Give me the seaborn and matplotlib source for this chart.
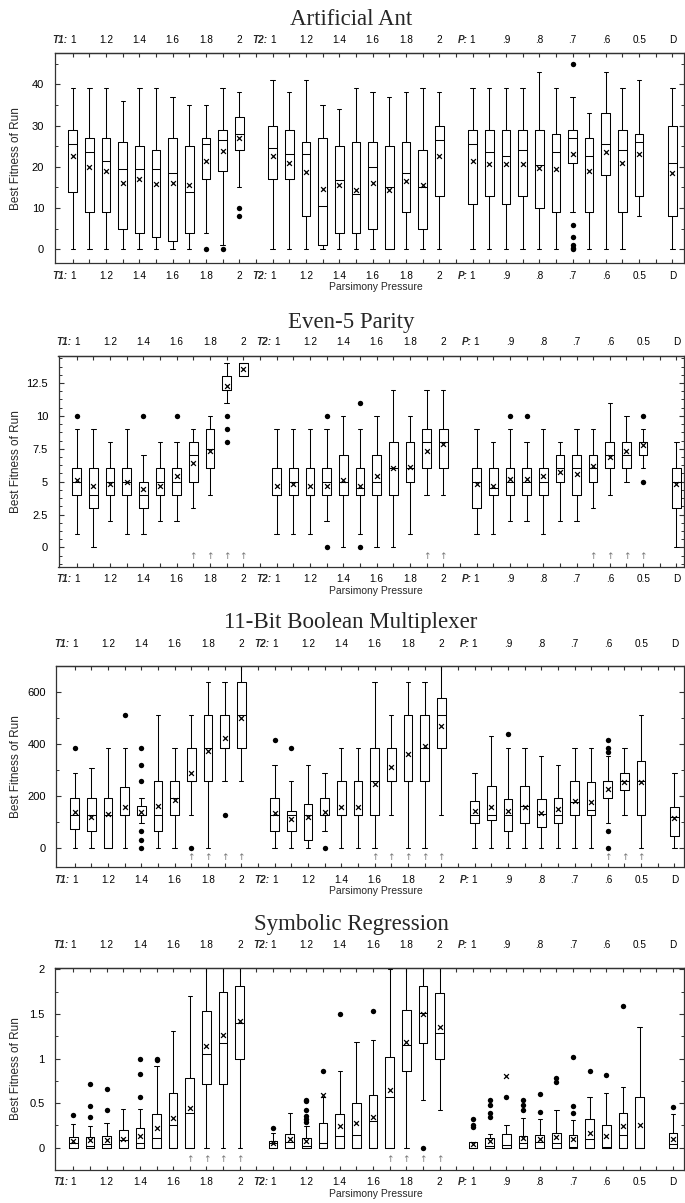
import matplotlib
matplotlib.use("Agg")

import pandas as pd
import matplotlib.pyplot as plt
import matplotlib.ticker as mticker
import matplotlib.transforms as mtransforms
import seaborn as sns

# --- categories -------------------------------------------------------------
T_STEPS = ["1", "1.1", "1.2", "1.3", "1.4", "1.5", "1.6", "1.7", "1.8", "1.9", "2"]
P_STEPS = ["1", ".95", ".9", ".85", ".8", ".75", ".7", ".65", ".6", ".55", "0.5"]
GROUPS = ["T1", "T2", "P", "D"]
CONDITIONS = ([f"T1 {s}" for s in T_STEPS] + [f"T2 {s}" for s in T_STEPS]
              + [f"P {s}" for s in P_STEPS] + ["D"])

# --- Artificial Ant ---------------------------------------------------------
ANT_LO = [0, 0, 0, 0, 0, 0, 0, 0, 4, 1, 15,
          0, 0, 0, 0, 0, 0, 0, 0, 0, 0, 0,
          0, 0, 0, 0, 0, 0, 9, 0, 0, 0, 8, 0]
ANT_Q1 = [14, 9, 9, 5, 4, 3, 2, 4, 17, 19, 24,
          17, 17, 8, 1, 4, 4, 5, 0, 9, 5, 13,
          11, 13, 11, 13, 10, 9, 21, 9, 18, 9, 13, 8]
ANT_MED = [25.5, 23.5, 21.5, 19.5, 19.5, 19.5, 18.5, 14, 25.5, 26.5, 28,
           24.5, 23, 23, 10.5, 16.7, 13.5, 20, 15, 18.5, 15, 26.5,
           25.5, 23.5, 22.5, 24, 20.5, 23.5, 27, 22.5, 25.5, 24, 26, 21]
ANT_Q3 = [29, 27, 27, 26, 25, 24, 27, 25, 27, 29, 32,
          30, 29, 26, 27, 25, 26, 26, 25, 26, 24, 30,
          29, 29, 29, 29, 29, 28, 29, 27, 33, 29, 28, 30]
ANT_HI = [39, 39, 39, 36, 39, 39, 37, 35, 35, 39, 38,
          41, 38, 41, 35, 34, 39, 38, 37, 38, 39, 38,
          39, 39, 39, 39, 43, 39, 37, 33, 43, 39, 41, 39]
ANT_MEAN = [22.5, 20, 19, 16, 17, 15.8, 16, 15.5, 21.5, 23.9, 27,
            22.7, 21, 18.7, 14.6, 15.6, 14.3, 16, 14.4, 16.5, 15.6, 22.7,
            21.4, 20.7, 20.7, 20.7, 19.7, 19.4, 23.1, 19, 23.5, 21, 23.1, 18.5]
ANT_OUTLIERS = [("T1 1.8", 0), ("T1 1.9", 0), ("T1 2", 10), ("T1 2", 8),
                ("P .7", 45), ("P .7", 6), ("P .7", 3), ("P .7", 1),
                ("P .7", 0.4), ("P .7", 0)]
ANT_ARROWS = []

# --- Even-5 Parity ----------------------------------------------------------
PAR_LO = [1, 0, 2, 1, 1, 2, 2, 3, 4, 11, 13,
          1, 1, 1, 2, 0, 1, 0, 0, 1, 4, 4,
          1, 1, 2, 2, 1, 2, 2, 3, 4, 5, 6, 0]
PAR_Q1 = [4, 3, 4, 4, 3, 4, 4, 5, 6, 12, 13,
          4, 4, 4, 4, 4, 4, 4, 4, 5, 6, 6,
          3, 4, 4, 4, 4, 5, 4, 5, 6, 6, 7, 3]
PAR_MED = [5, 4, 5, 5, 4, 5, 5, 7, 7.5, 12, 14,
           4, 5, 4, 5, 5, 4.5, 5, 6, 6, 8, 8,
           5, 4.5, 5, 5, 5, 6, 6, 6, 7, 7, 8, 5]
PAR_Q3 = [6, 6, 6, 6, 5, 6, 6, 8, 9, 13, 14,
          6, 6, 6, 6, 7, 6, 7, 8, 8, 9, 9,
          6, 6, 6, 6, 6, 7, 7, 7, 8, 8, 8, 6]
PAR_HI = [9, 9, 8, 9, 7, 8, 8, 9, 10, 14, 14,
          9, 9, 9, 9, 10, 9, 10, 12, 10, 12, 12,
          9, 8, 9, 8, 9, 8, 9, 9, 11, 10, 9, 8]
PAR_MEAN = [5.1, 4.65, 4.8, 5.0, 4.45, 4.7, 5.4, 6.4, 7.3, 12.3, 13.6,
            4.7, 4.85, 4.7, 4.7, 5.1, 4.7, 5.4, 6.0, 6.1, 7.35, 7.85,
            4.8, 4.7, 5.2, 5.2, 5.4, 5.7, 5.6, 6.2, 6.9, 7.3, 7.75, 4.8]
PAR_OUTLIERS = [("T1 1", 10), ("T1 1.4", 10), ("T1 1.6", 10),
                ("T1 1.9", 10), ("T1 1.9", 9), ("T1 1.9", 8),
                ("T2 1.3", 10), ("T2 1.3", 0), ("T2 1.5", 11), ("T2 1.5", 0),
                ("P .9", 10), ("P .85", 10), ("P 0.5", 10), ("P 0.5", 5)]
PAR_ARROWS = ["T1 1.7", "T1 1.8", "T1 1.9", "T1 2", "T2 1.9", "T2 2",
              "P .65", "P .6", "P .55", "P 0.5"]

# --- 11-Bit Boolean Multiplexer ---------------------------------------------
MUX_LO = [0, 0, 0, 0, 96, 0, 0, 128, 0, 256, 256,
          0, 0, 0, 64, 0, 0, 0, 128, 0, 0, 128,
          0, 0, 0, 0, 0, 0, 0, 0, 96, 128, 0, 0]
MUX_Q1 = [72, 64, 0, 128, 128, 64, 128, 256, 256, 384, 384,
          64, 64, 32, 128, 128, 128, 128, 256, 256, 256, 384,
          96, 108, 64, 96, 80, 96, 128, 128, 192, 224, 128, 46]
MUX_MED = [128, 128, 128, 128, 128, 128, 192, 256, 384, 384, 512,
           128, 128, 128, 128, 128, 128, 256, 256, 256, 384, 512,
           128, 128, 128, 160, 130, 128, 176, 146, 256, 256, 256, 120]
MUX_Q3 = [192, 192, 192, 236, 160, 256, 256, 384, 512, 512, 640,
          192, 144, 168, 192, 256, 256, 384, 384, 512, 512, 576,
          180, 240, 190, 240, 190, 194, 256, 252, 258, 288, 336, 158]
MUX_HI = [288, 306, 384, 384, 192, 512, 384, 512, 640, 640, 704,
          320, 256, 320, 288, 384, 384, 640, 512, 640, 640, 704,
          288, 432, 384, 384, 352, 320, 384, 384, 352, 384, 512, 288]
MUX_MEAN = [139, 120, 129, 158, 139, 162, 184, 287, 375, 425, 500,
            133, 113, 120, 139, 158, 156, 246, 313, 362, 394, 471,
            142, 156, 143, 158, 133, 148, 182, 175, 225, 255, 252, 116]
MUX_OUTLIERS = [("T1 1", 384), ("T1 1.3", 512),
                ("T1 1.4", 384), ("T1 1.4", 320), ("T1 1.4", 256),
                ("T1 1.4", 64), ("T1 1.4", 32), ("T1 1.4", 0),
                ("T1 1.7", 0), ("T1 1.9", 128),
                ("T2 1", 416), ("T2 1.1", 384), ("T2 1.3", 0),
                ("P .9", 440), ("P .6", 416), ("P .6", 384), ("P .6", 368),
                ("P .6", 64), ("P .6", 0)]
MUX_ARROWS = ["T1 1.7", "T1 1.8", "T1 1.9", "T1 2",
              "T2 1.6", "T2 1.7", "T2 1.8", "T2 1.9", "T2 2",
              "P .6", "P .55", "P 0.5"]

# --- Symbolic Regression ----------------------------------------------------
SYM_LO = [0, 0, 0, 0, 0, 0, 0, 0, 0, 0, 0,
          0, 0, 0, 0, 0, 0, 0, 0, 0, 0.54, 0.42,
          0, 0, 0, 0, 0, 0, 0, 0, 0, 0, 0, 0]
SYM_Q1 = [0, 0, 0, 0, 0, 0, 0, 0, 0.72, 0.72, 0.99,
          0, 0, 0, 0, 0, 0, 0, 0, 0.86, 1.17, 0.99,
          0, 0, 0, 0, 0, 0, 0, 0, 0, 0, 0, 0]
SYM_MED = [0.05, 0.02, 0.04, 0.086, 0.05, 0.11, 0.255, 0.39, 1.05, 1.18, 1.4,
           0.05, 0.06, 0.02, 0.05, 0.13, 0.14, 0.3, 0.57, 1.15, 1.51, 1.29,
           0.0, 0.02, 0.03, 0.05, 0.068, 0.05, 0.01, 0.1, 0.01, 0.14, 0.0, 0.04]
SYM_Q3 = [0.124, 0.124, 0.135, 0.2, 0.22, 0.375, 0.61, 0.78, 1.53, 1.745, 1.81,
          0.075, 0.155, 0.105, 0.28, 0.375, 0.5, 0.59, 1.02, 1.54, 1.81, 1.74,
          0.068, 0.105, 0.155, 0.135, 0.14, 0.17, 0.14, 0.32, 0.25, 0.39, 0.57, 0.16]
SYM_HI = [0.27, 0.24, 0.28, 0.43, 0.43, 0.92, 1.31, 1.7, 2.3, 2.3, 2.3,
          0.17, 0.39, 0.24, 0.57, 0.86, 1.19, 1.21, 2.0, 2.3, 2.3, 2.3,
          0.068, 0.15, 0.26, 0.33, 0.32, 0.42, 0.31, 0.57, 0.61, 0.68, 1.35, 0.375]
SYM_MEAN = [0.07, 0.086, 0.086, 0.1, 0.13, 0.22, 0.33, 0.45, 1.14, 1.27, 1.42,
            0.05, 0.094, 0.075, 0.59, 0.245, 0.28, 0.34, 0.65, 1.19, 1.5, 1.36,
            0.04, 0.075, 0.81, 0.105, 0.1, 0.12, 0.098, 0.17, 0.135, 0.24, 0.255, 0.1]
SYM_OUTLIERS = [("T1 1", 0.37), ("T1 1.1", 0.72), ("T1 1.1", 0.47), ("T1 1.1", 0.34),
                ("T1 1.2", 0.66), ("T1 1.2", 0.42),
                ("T1 1.4", 1.0), ("T1 1.4", 0.83), ("T1 1.4", 0.57),
                ("T1 1.5", 1.0), ("T1 1.5", 0.98),
                ("T2 1", 0.225), ("T2 1.2", 0.54), ("T2 1.2", 0.52), ("T2 1.2", 0.42),
                ("T2 1.2", 0.36), ("T2 1.2", 0.32), ("T2 1.2", 0.29),
                ("T2 1.3", 0.86), ("T2 1.4", 1.5), ("T2 1.6", 1.53), ("T2 1.9", 0),
                ("P 1", 0.32), ("P 1", 0.255), ("P 1", 0.23),
                ("P .95", 0.53), ("P .95", 0.48), ("P .95", 0.39), ("P .95", 0.34),
                ("P .9", 0.57), ("P .85", 0.53), ("P .85", 0.48), ("P .85", 0.42),
                ("P .8", 0.6), ("P .8", 0.405), ("P .75", 0.78), ("P .75", 0.735),
                ("P .7", 1.02), ("P .7", 0.47), ("P .7", 0.39),
                ("P .65", 0.86), ("P .6", 0.82), ("P .55", 1.59), ("D", 0.46)]
SYM_ARROWS = ["T1 1.7", "T1 1.8", "T1 1.9", "T1 2",
              "T2 1.7", "T2 1.8", "T2 1.9", "T2 2"]

# --- style ------------------------------------------------------------------
sns.set_style("ticks")
plt.rcParams.update({
    "font.family": ["Liberation Sans", "DejaVu Sans"],
    "axes.edgecolor": "#333333",
    "axes.linewidth": 0.9,
    "xtick.direction": "in",
    "ytick.direction": "in",
    "xtick.major.size": 3,
    "xtick.major.width": 0.8,
    "ytick.major.size": 3.5,
    "ytick.minor.size": 2,
    "ytick.major.width": 0.8,
    "ytick.minor.width": 0.7,
    "xtick.color": "#333333",
    "ytick.color": "#333333",
    "xtick.labelcolor": "black",
    "ytick.labelcolor": "black",
})

W, H = 685, 1203
SPACING = 16.66   # px between neighbouring boxes
FIRST = 18.2      # px from left spine to first box
RIGHT = 684
TICK_FS = 7.2


def cond_pos(cond):
    group, _, step = cond.partition(" ")
    steps = P_STEPS if group == "P" else T_STEPS
    return 12 * GROUPS.index(group) + (steps.index(step) if step else 0)


def tick_text():
    labels = {}
    for cond in CONDITIONS:
        group, _, step = cond.partition(" ")
        steps = P_STEPS if group == "P" else T_STEPS
        if not step:
            labels[cond_pos(cond)] = "D"
        elif steps.index(step) % 2 == 0:
            labels[cond_pos(cond)] = step
    return [labels.get(i, "") for i in range(37)]


def draw_panel(fig, title, stats, mean, outliers, arrows, ylim, major, minor, lay):
    left, top, bottom, top_lab, title_base = lay
    ax = fig.add_axes([left / W, 1 - bottom / H, (RIGHT - left) / W, (bottom - top) / H])
    height_px = bottom - top

    rows = []
    for cond, vals in zip(CONDITIONS, zip(*stats)):
        for v in vals:
            rows.append({"pos": cond_pos(cond), "value": v})
    df = pd.DataFrame(rows)
    sns.boxplot(data=df, x="pos", y="value", native_scale=True, whis=(0, 100),
                width=0.52, fill=False, color="black", linewidth=0.75, ax=ax)

    pos = [cond_pos(c) for c in CONDITIONS]
    sns.scatterplot(x=pos, y=mean, marker="x", color="black", s=12,
                    linewidth=0.9, ax=ax, legend=False, zorder=4)
    if outliers:
        sns.scatterplot(x=[cond_pos(c) for c, _ in outliers], y=[v for _, v in outliers],
                        marker="o", color="black", s=15, linewidth=0, ax=ax,
                        legend=False, zorder=4)
    for cond in arrows:
        ax.text(cond_pos(cond), 0.05, "\u2191", transform=ax.get_xaxis_transform(),
                ha="center", va="center", fontsize=6.5, color="#777777",
                family="DejaVu Sans")

    xmin = -FIRST / SPACING
    ax.set_xlim(xmin, xmin + (RIGHT - left) / SPACING)
    ax.set_ylim(*ylim)

    labels = tick_text()
    top_pad = (top - top_lab - 5.6) * 0.72
    bot_pad = (13 - 5.6) * 0.72
    ax.set_xticks(range(37))
    ax.set_xticklabels(labels, fontsize=TICK_FS)
    ax.tick_params(axis="x", bottom=True, top=False, pad=bot_pad)
    sec = ax.secondary_xaxis("top")
    sec.set_xticks(range(37))
    sec.set_xticklabels(labels, fontsize=TICK_FS)
    sec.tick_params(axis="x", direction="in", length=3, width=0.8, pad=top_pad,
                    color="#333333")

    up = mtransforms.offset_copy(ax.get_xaxis_transform(), fig=fig, y=top_pad, units="points")
    down = mtransforms.offset_copy(ax.get_xaxis_transform(), fig=fig, y=-bot_pad, units="points")
    for g in ["T1", "T2", "P"]:
        x = 12 * GROUPS.index(g) - 0.3
        ax.text(x, 1, g + ":", transform=up, ha="right", va="bottom", fontsize=TICK_FS,
                fontweight="bold", fontstyle="italic")
        ax.text(x, 0, g + ":", transform=down, ha="right", va="top", fontsize=TICK_FS,
                fontweight="bold", fontstyle="italic")

    ax.yaxis.set_major_locator(mticker.MultipleLocator(major))
    ax.yaxis.set_minor_locator(mticker.MultipleLocator(minor))
    ax.yaxis.set_major_formatter(mticker.FormatStrFormatter("%g"))
    ax.tick_params(axis="y", which="both", left=True, right=True, labelsize=8, pad=7.5)

    ax.set_ylabel("Best Fitness of Run", fontsize=8.5)
    ax.yaxis.set_label_coords((21.7 - left) / (RIGHT - left), 0.5)
    ax.set_xlabel("Parsimony Pressure", fontsize=7.5)
    ax.xaxis.set_label_coords((376 - left) / (RIGHT - left), -19 / height_px)

    fig.text(351 / W, 1 - title_base / H, title, ha="center", va="baseline",
             fontsize=16.5, family="Liberation Serif")
    return ax


fig = plt.figure(figsize=(W / 100, H / 100), dpi=100)

draw_panel(fig, "Artificial Ant", (ANT_LO, ANT_Q1, ANT_MED, ANT_Q3, ANT_HI),
           ANT_MEAN, ANT_OUTLIERS, ANT_ARROWS, (-3.4, 47.5), 10, 5,
           (54.5, 53.3, 263.3, 39.3, 25))
draw_panel(fig, "Even-5 Parity", (PAR_LO, PAR_Q1, PAR_MED, PAR_Q3, PAR_HI),
           PAR_MEAN, PAR_OUTLIERS, PAR_ARROWS, (-1.47, 14.58), 2.5, 0.625,
           (58.5, 355.7, 566.7, 341.7, 328.3))
draw_panel(fig, "11-Bit Boolean Multiplexer", (MUX_LO, MUX_Q1, MUX_MED, MUX_Q3, MUX_HI),
           MUX_MEAN, MUX_OUTLIERS, MUX_ARROWS, (-74.5, 701.5), 200, 100,
           (56.5, 665.7, 867.3, 643.3, 628.3))
draw_panel(fig, "Symbolic Regression", (SYM_LO, SYM_Q1, SYM_MED, SYM_Q3, SYM_HI),
           SYM_MEAN, SYM_OUTLIERS, SYM_ARROWS, (-0.25, 2.02), 0.5, 0.25,
           (55, 967.7, 1170, 944.3, 930))

fig.savefig("out.png", dpi=100, facecolor="white")
